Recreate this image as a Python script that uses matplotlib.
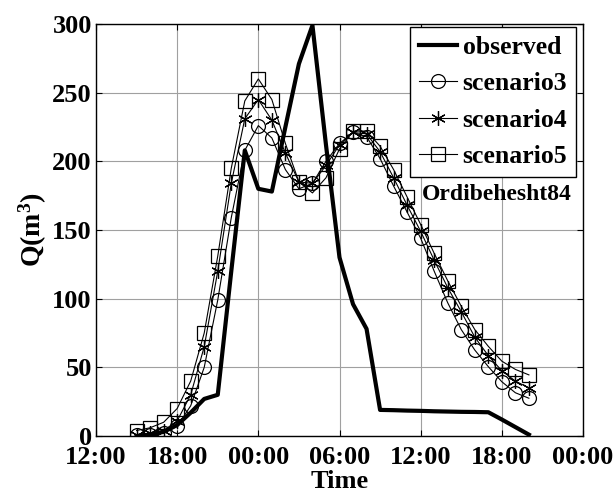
import matplotlib
matplotlib.use("Agg")
import matplotlib.pyplot as plt

plt.rcParams['font.family'] = ['Liberation Serif', 'DejaVu Serif']
plt.rcParams['font.weight'] = 'bold'
plt.rcParams['mathtext.fontset'] = 'custom'
plt.rcParams['mathtext.rm'] = 'Liberation Serif:bold'
plt.rcParams['mathtext.it'] = 'Liberation Serif:bold'
plt.rcParams['mathtext.bf'] = 'Liberation Serif:bold'

# hours since 12:00 of the first day
hours = list(range(3, 33))
observed = [0, 1, 3, 8, 17, 27, 30, 120, 208, 180, 178, 225, 271, 299, 212, 130, 96, 78,
            19, 18.8, 18.5, 18.3, 18, 17.8, 17.6, 17.5, 17.3, 12, 6.5, 1]
scenario3 = [0.5, 1, 2.5, 7, 22, 50, 99, 159, 208, 226, 217, 194, 180, 184, 200, 213, 221, 218,
             202, 182, 163, 144, 120, 97, 77.5, 62.6, 50.5, 39.5, 31.5, 27.5]
scenario4 = [1, 2, 4, 11, 30, 65, 120, 184, 231, 245, 230, 206, 185, 184, 197, 212, 221, 220,
             207, 188, 168, 149, 128, 108, 90.5, 72, 58.5, 47.5, 40, 35]
scenario5 = [4, 6, 10, 20, 40, 75, 131, 195, 244, 260, 245, 213, 185, 177, 188, 209, 222, 222,
             211, 194, 174, 154, 133, 113, 94.5, 77.5, 65.3, 54.5, 48.5, 44.5]

xtick_pos = [0, 6, 12, 18, 24, 30, 36]
xtick_labels = ['12:00', '18:00', '00:00', '06:00', '12:00', '18:00', '00:00']
ytick_pos = [0, 50, 100, 150, 200, 250, 300]

fig = plt.figure(figsize=(6.15, 4.97), dpi=100)
ax = fig.add_axes([96/615, 1-436/497, 487/615, 412/497])

ax.plot(hours, observed, color='black', lw=3.0, label='observed')
ax.plot(hours, scenario3, color='black', lw=0.8, marker='o', ms=10,
        mfc='none', mec='black', mew=0.9, label='scenario3')
ax.plot(hours, scenario4, color='black', lw=0.8, marker=(6, 2, 0), ms=10.5,
        mec='black', mew=0.9, label='scenario4')
ax.plot(hours, scenario5, color='black', lw=0.8, marker='s', ms=9.5,
        mfc='none', mec='black', mew=0.9, label='scenario5')

ax.set_xlim(0, 36)
ax.set_ylim(0, 300)
ax.set_xticks(xtick_pos)
ax.set_xticklabels(xtick_labels)
ax.set_yticks(ytick_pos)
ax.grid(True, color='#a0a0a0', lw=0.8)
ax.tick_params(direction='in', top=True, right=True, labelsize=19, length=4, pad=3)
ax.tick_params(axis='x', pad=7)
for lab in ax.get_xticklabels() + ax.get_yticklabels():
    lab.set_fontweight('bold')
for sp in ax.spines.values():
    sp.set_linewidth(1.0)

ax.set_xlabel('Time', fontsize=19, fontweight='bold', labelpad=1)
ax.set_ylabel('Q(m$^3$)', fontsize=20, fontweight='bold', labelpad=2)

leg = ax.legend(loc='upper right', bbox_to_anchor=(0.986, 0.993), borderaxespad=0,
                prop={'size': 18.5, 'weight': 'bold'}, handlelength=1.5,
                handletextpad=0.2, labelspacing=0.52, borderpad=0.35,
                fancybox=False, framealpha=1)
leg.get_frame().set_edgecolor('black')
leg.get_frame().set_linewidth(1.0)

ax.text(0.669, 0.585, 'Ordibehesht84', transform=ax.transAxes, fontsize=17,
        fontweight='bold', va='center', ha='left')

fig.savefig('out.png', dpi=100)
